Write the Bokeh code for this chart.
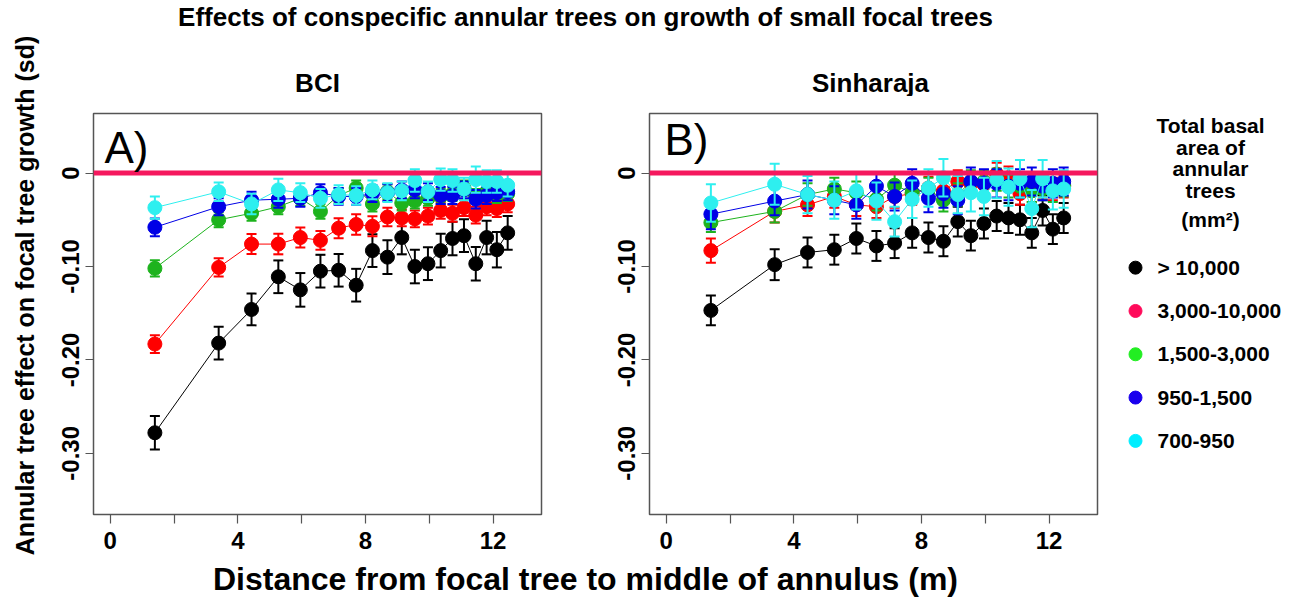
import math
from bokeh.plotting import figure
from bokeh.layouts import row, column
from bokeh.models import Range1d, FixedTicker, Span, Label, ColumnDataSource
from bokeh.embed import file_html
from bokeh.resources import INLINE
from bokeh.core.properties import value

# ---------------- data ----------------
distance = [1.4, 3.4, 4.43, 5.27, 5.96, 6.59, 7.16, 7.71, 8.22, 8.69,
            9.14, 9.55, 9.96, 10.36, 10.73, 11.09, 11.46, 11.8, 12.12, 12.46]

classes = ["> 10,000", "3,000-10,000", "1,500-3,000", "950-1,500", "700-950"]
series_colors = ["#000000", "#FF0000", "#1DB31D", "#0000E6", "#2EEFEF"]
legend_colors = ["#000000", "#FF0A5A", "#22EE22", "#1A00EE", "#00EEFF"]

# BCI (panel A) effects
bci_gt10000 = [-0.278, -0.182, -0.146, -0.111, -0.125, -0.105, -0.104, -0.120, -0.083, -0.090,
               -0.069, -0.100, -0.097, -0.083, -0.070, -0.067, -0.097, -0.069, -0.082, -0.064]
bci_3000_10000 = [-0.183, -0.101, -0.076, -0.076, -0.069, -0.072, -0.059, -0.055, -0.057, -0.047,
                  -0.048, -0.049, -0.046, -0.040, -0.043, -0.037, -0.045, -0.036, -0.038, -0.033]
bci_1500_3000 = [-0.102, -0.050, -0.043, -0.036, -0.027, -0.041, -0.024, -0.016, -0.033, -0.020,
                 -0.032, -0.030, -0.027, -0.025, -0.022, -0.016, -0.025, -0.020, -0.024, -0.022]
bci_950_1500 = [-0.058, -0.036, -0.029, -0.028, -0.027, -0.021, -0.025, -0.025, -0.022, -0.021,
                -0.018, -0.018, -0.020, -0.024, -0.024, -0.018, -0.028, -0.024, -0.021, -0.020]
bci_700_950 = [-0.037, -0.020, -0.033, -0.018, -0.021, -0.027, -0.023, -0.024, -0.018, -0.021,
               -0.019, -0.008, -0.020, -0.007, -0.008, -0.017, -0.007, -0.009, -0.009, -0.013]

bci_se_gt10000 = [0.018, 0.0175, 0.017, 0.0175, 0.018, 0.0175, 0.0175, 0.0175, 0.0175, 0.018,
                  0.018, 0.018, 0.0175, 0.018, 0.018, 0.0175, 0.018, 0.018, 0.019, 0.018]
bci_se_3000_10000 = [0.0095, 0.0098, 0.0107, 0.011, 0.0107, 0.010, 0.0107, 0.011, 0.0107, 0.010,
                     0.009, 0.009, 0.009, 0.009, 0.009, 0.009, 0.009, 0.009, 0.009, 0.009]
bci_se_1500_3000 = [0.0086, 0.008, 0.008, 0.008, 0.008, 0.008, 0.008, 0.008, 0.008, 0.008,
                    0.008, 0.008, 0.008, 0.008, 0.008, 0.008, 0.008, 0.008, 0.008, 0.008]
bci_se_950_1500 = [0.0095, 0.009, 0.009, 0.009, 0.009, 0.009, 0.009, 0.009, 0.009, 0.009,
                   0.009, 0.009, 0.009, 0.009, 0.009, 0.009, 0.010, 0.009, 0.009, 0.009]
bci_se_700_950 = [0.012, 0.010, 0.011, 0.012, 0.010, 0.010, 0.010, 0.010, 0.010, 0.010,
                  0.010, 0.012, 0.011, 0.012, 0.012, 0.012, 0.014, 0.012, 0.012, 0.012]

# Sinharaja (panel B) effects
sin_gt10000 = [-0.147, -0.098, -0.085, -0.082, -0.070, -0.078, -0.075, -0.064, -0.069, -0.073,
               -0.052, -0.067, -0.054, -0.046, -0.048, -0.050, -0.064, -0.040, -0.060, -0.048]
sin_3000_10000 = [-0.083, -0.041, -0.034, -0.025, -0.034, -0.036, -0.025, -0.022, -0.016, -0.019,
                  -0.009, -0.011, -0.012, -0.001, -0.005, -0.022, -0.019, -0.016, -0.017, -0.014]
sin_1500_3000 = [-0.053, -0.041, -0.023, -0.017, -0.021, -0.028, -0.013, -0.021, -0.017, -0.029,
                 -0.023, -0.009, -0.009, -0.007, -0.014, -0.014, -0.019, -0.017, -0.019, -0.013]
sin_950_1500 = [-0.044, -0.030, -0.023, -0.029, -0.034, -0.014, -0.025, -0.011, -0.027, -0.022,
                -0.029, -0.009, -0.011, -0.011, -0.014, -0.011, -0.009, -0.014, -0.011, -0.009]
sin_700_950 = [-0.032, -0.012, -0.023, -0.029, -0.019, -0.030, -0.052, -0.028, -0.016, -0.005,
               -0.023, -0.021, -0.025, -0.007, -0.015, -0.006, -0.038, -0.006, -0.019, -0.017]

sin_se_gt10000 = [0.016, 0.0166, 0.016, 0.016, 0.016, 0.016, 0.016, 0.016, 0.016, 0.016,
                  0.016, 0.016, 0.016, 0.016, 0.016, 0.016, 0.016, 0.016, 0.016, 0.016]
sin_se_3000_10000 = [0.013, 0.012, 0.012, 0.012, 0.012, 0.012, 0.012, 0.012, 0.012, 0.012,
                     0.012, 0.012, 0.012, 0.012, 0.012, 0.012, 0.012, 0.012, 0.012, 0.012]
sin_se_1500_3000 = [0.010, 0.012, 0.012, 0.012, 0.012, 0.012, 0.012, 0.012, 0.012, 0.012,
                    0.012, 0.012, 0.012, 0.012, 0.012, 0.012, 0.012, 0.012, 0.012, 0.012]
sin_se_950_1500 = [0.016, 0.015, 0.015, 0.015, 0.015, 0.015, 0.015, 0.015, 0.015, 0.015,
                   0.015, 0.015, 0.015, 0.015, 0.015, 0.015, 0.015, 0.015, 0.015, 0.015]
sin_se_700_950 = [0.020, 0.022, 0.020, 0.020, 0.020, 0.020, 0.016, 0.020, 0.020, 0.020,
                  0.020, 0.020, 0.020, 0.020, 0.020, 0.020, 0.020, 0.020, 0.020, 0.020]

x_ticks = [0, 2, 4, 6, 8, 10, 12]
x_tick_labels = {0: "0", 2: "", 4: "4", 6: "", 8: "8", 10: "", 12: "12"}
y_ticks = [-0.3, -0.2, -0.1, 0.0]
y_tick_labels = {-0.3: "-0.30", -0.2: "-0.20", -0.1: "-0.10", 0.0: "0"}

title_text = "Effects of conspecific annular trees on growth of small focal trees"
panel_titles = ["BCI", "Sinharaja"]
x_label = "Distance from focal tree to middle of annulus (m)"
y_label = "Annular tree effect on focal tree growth (sd)"
legend_title = ["Total basal", "area of", "annular", "trees", "(mm\u00b2)"]

FONT = "Liberation Sans"

# ---------------- panels ----------------
def make_panel(vals_list, se_list, letter, ml, mr, letter_x, letter_y):
    p = figure(frame_width=448, frame_height=401,
               x_range=Range1d(-0.524, 13.52), y_range=Range1d(-0.3655, 0.0638),
               output_backend="svg", toolbar_location=None,
               min_border_left=ml, min_border_right=mr,
               min_border_top=17, min_border_bottom=45)
    p.grid.visible = False
    p.outline_line_color = "#555555"
    p.outline_line_width = 1.5
    p.background_fill_color = "white"
    p.border_fill_color = "white"
    for vals, se, col in zip(vals_list, se_list, series_colors):
        src = ColumnDataSource(dict(x=distance, y=vals,
                                    lo=[v - s for v, s in zip(vals, se)],
                                    hi=[v + s for v, s in zip(vals, se)]))
        p.line("x", "y", source=src, line_color=col, line_width=1)
        p.segment(x0="x", y0="lo", x1="x", y1="hi", source=src, line_color=col, line_width=2)
        p.scatter("x", "lo", source=src, marker="dash", size=10, line_color=col, line_width=2)
        p.scatter("x", "hi", source=src, marker="dash", size=10, line_color=col, line_width=2)
        p.scatter("x", "y", source=src, size=14, fill_color=col, line_color=col)
    p.add_layout(Span(location=0, dimension="width", line_color="#F5185E", line_width=5))
    p.add_layout(Label(x=letter_x, y=letter_y, x_units="screen", y_units="screen",
                       text=letter, text_font=FONT, text_font_size="44px",
                       text_color="black", text_baseline="middle"))
    for ax in (p.xaxis[0], p.yaxis[0]):
        ax.axis_line_color = None
        ax.major_tick_line_color = "#555555"
        ax.major_tick_line_width = 1.2
        ax.major_tick_in = 0
        ax.minor_tick_line_color = None
        ax.major_label_text_font = FONT
        ax.major_label_text_font_style = "bold"
        ax.major_label_text_font_size = "24px"
        ax.major_label_text_color = "black"
    p.xaxis.ticker = FixedTicker(ticks=x_ticks)
    p.xaxis.major_label_overrides = x_tick_labels
    p.xaxis.major_tick_out = 9
    p.xaxis.major_label_standoff = 8
    p.yaxis.ticker = FixedTicker(ticks=y_ticks)
    p.yaxis.major_label_overrides = y_tick_labels
    p.yaxis.major_tick_out = 8
    p.yaxis.major_label_standoff = 6
    p.yaxis.major_label_orientation = "vertical"
    return p

pA = make_panel([bci_gt10000, bci_3000_10000, bci_1500_3000, bci_950_1500, bci_700_950],
                [bci_se_gt10000, bci_se_3000_10000, bci_se_1500_3000, bci_se_950_1500, bci_se_700_950],
                "A)", 53, 41, 11, 367)
pB = make_panel([sin_gt10000, sin_3000_10000, sin_1500_3000, sin_950_1500, sin_700_950],
                [sin_se_gt10000, sin_se_3000_10000, sin_se_1500_3000, sin_se_950_1500, sin_se_700_950],
                "B)", 67, 3, 15, 375)

# ---------------- helper figures (pixel coordinates) ----------------
def blank(w, h):
    f = figure(width=w, height=h, x_range=Range1d(0, w), y_range=Range1d(0, h),
               output_backend="svg", toolbar_location=None,
               x_axis_type=None, y_axis_type=None, min_border=0)
    f.grid.visible = False
    f.outline_line_color = None
    f.background_fill_color = "white"
    f.border_fill_color = "white"
    return f

# left: y axis label
left = blank(40, 599)
left.text(x=[24], y=[304], text=[y_label], angle=math.pi / 2,
          text_font=value(FONT), text_font_style="bold", text_font_size="25px",
          text_align="center", text_baseline="middle", text_color="black")

# top: main title + panel titles
top = blank(1260, 96)
top.text(x=[545], y=[80], text=[title_text], text_font=value(FONT),
         text_font_style="bold", text_font_size="26px",
         text_align="center", text_baseline="middle", text_color="black")
top.text(x=[277, 830], y=[14, 14], text=panel_titles, text_font=value(FONT),
         text_font_style="bold", text_font_size="26px",
         text_align="center", text_baseline="middle", text_color="black")

# bottom: x axis label
bottom = blank(1260, 40)
bottom.text(x=[545], y=[20.5], text=[x_label], text_font=value(FONT),
            text_font_style="bold", text_font_size="32px",
            text_align="center", text_baseline="middle", text_color="black")

# legend
leg = blank(200, 463)
leg.text(x=[110] * 5, y=[449, 424, 400, 374, 341], text=legend_title,
         text_font=value(FONT), text_font_style="bold", text_font_size="21px",
         text_align="center", text_baseline="middle", text_color="black")
leg_y = [285 - 50 * i for i in range(len(classes))]
leg.scatter(x=[35] * len(classes), y=leg_y, size=13, fill_color=legend_colors,
            line_color=legend_colors)
leg.text(x=[57] * len(classes), y=leg_y, text=classes, text_font=value(FONT),
         text_font_style="bold", text_font_size="21px",
         text_align="left", text_baseline="middle", text_color="black")

layout = row(left, column(top, row(pA, pB, leg), bottom))

open("out.html", "w").write(file_html(layout, INLINE))
